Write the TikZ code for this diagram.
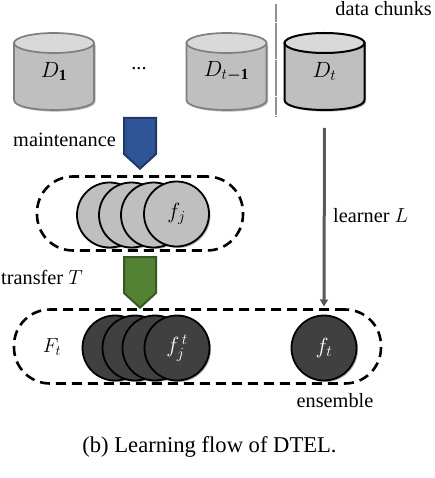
\RequirePackage{fix-cm}
\documentclass[tikz,border=0pt]{standalone}
\usepackage{amsmath,amssymb}
\usepackage{fontspec}
\setmainfont{Liberation Serif}
\usetikzlibrary{shapes.symbols,shadows,arrows.meta}
\definecolor{cylfill}{HTML}{BFBFBF}
\definecolor{cyltop}{HTML}{D9D9D9}
\definecolor{cylline}{HTML}{7F7F7F}
\definecolor{darkfill}{HTML}{404040}
\definecolor{bluefill}{HTML}{2F5597}
\definecolor{blueline}{HTML}{203864}
\definecolor{greenfill}{HTML}{548235}
\definecolor{greenline}{HTML}{385723}
\definecolor{arrowgray}{HTML}{595959}
\newcommand{\chunkshape}[3]{% x centre, colour, line width
  \fill[black,opacity=.28] (#1-38.5,45) -- (#1-38.5,101.5) .. controls (#1-38.5,115) and (#1+41.5,115) .. (#1+41.5,101.5) -- (#1+41.5,45) -- cycle;
  \draw[draw=#2,line width=#3,fill=cylfill] (#1-40,43) -- (#1-40,100) .. controls (#1-40,113.3) and (#1+40,113.3) .. (#1+40,100) -- (#1+40,43) -- cycle;
  \draw[draw=#2,line width=#3,fill=cyltop] (#1,43) ellipse [x radius=40,y radius=10];
}
\tikzset{
  softshadow/.style={drop shadow={shadow xshift=1.5pt,shadow yshift=-1.5pt,opacity=.3,fill=black}},
  chunk/.style={minimum width=80pt,minimum height=77pt,inner sep=0pt,outer sep=0pt,
    font=\fontsize{22}{24}\selectfont},
  learner/.style={circle,draw=black,line width=1.8pt,fill=cylfill,minimum size=65pt,inner sep=0pt,outer sep=0pt,softshadow,
    font=\fontsize{22}{24}\selectfont},
  darklearner/.style={learner,fill=darkfill,text=white},
  group/.style={draw=black,line width=2.6pt,dash pattern=on 10pt off 6pt,rectangle,rounded corners=36pt,inner sep=0pt},
  flowmark/.style={signal,signal to=south,signal from=nowhere,signal pointer angle=95,line width=2pt,inner sep=0pt,outer sep=0pt,minimum width=32pt,minimum height=36pt,anchor=north},
  label/.style={font=\fontsize{20.3}{24}\selectfont,inner sep=0pt},
  caption/.style={font=\fontsize{22.6}{26}\selectfont,inner sep=0pt},
}
\begin{document}
\begin{tikzpicture}[x=1pt,y=-1pt]
\useasboundingbox (0,0) rectangle (434,478);
\fill[white] (0,0) rectangle (434,478);
% separators and chunks
\coordinate (sepA) at (276,4);
\coordinate (sepB) at (276,117);
\draw[cylline!85,line width=1.4pt,dash pattern=on 18pt off 0.6pt] (sepA) -- (sepB);
\chunkshape{54}{cylline}{1.7pt}
\chunkshape{226.5}{cylline}{1.7pt}
\chunkshape{324.5}{black}{2pt}
\node[chunk] (D1) at (54,71.5) {\raisebox{-2pt}{$D_{\mathbf{1}}$}};
\node[chunk] (Dp) at (226.5,71.5) {\raisebox{-2pt}{$D_{t\boldsymbol{-}\mathbf{1}}$}};
\node[chunk] (Dt) at (324.5,71.5) {\raisebox{-2pt}{$D_t$}};
\node[label] (dots) at (139,69) {...};
\node[label,anchor=east] (chunks) at (432,9) {data chunks};
% groups
\node[group,minimum width=206pt,minimum height=74pt] (G1) at (140,213.5) {};
\node[group,minimum width=367pt,minimum height=74pt] (G2) at (197.5,346.5) {};
% markers
\node[flowmark,fill=bluefill,draw=blueline] (M) at (140,118) {};
\node[flowmark,fill=greenfill,draw=greenline] (T) at (140,257) {};
\node[label,anchor=east] (mt) at (116,140) {maintenance};
\node[label,anchor=west] (tt) at (1,277) {transfer $T$};
% learners
\node[learner] (a1) at (109.5,215) {};
\node[learner] (a2) at (131.5,215) {};
\node[learner] (a3) at (153.5,215) {};
\node[learner] (fj) at (176.5,214) {$f_j$};
\node[darklearner] (b1) at (115,348) {};
\node[darklearner] (b2) at (135,348) {};
\node[darklearner] (b3) at (155,348) {};
\node[darklearner] (fjt) at (177,348) {$f_j^{\,t}$};
\node[darklearner] (ft) at (324,348) {$f_t$};
\node[label] (Ft) at (52,347) {$F_t$};
% learner arrow
\draw[arrowgray,line width=3pt,-{Triangle[width=8pt,length=7pt]},shorten <=18pt,shorten >=9pt] (Dt.south) -- (ft.north);
\node[label,anchor=west] (ll) at (333,216) {learner $L$};
\node[label] (en) at (335,401) {ensemble};
\node[caption] (cap) at (209.5,447) {(b) Learning flow of DTEL.};
\end{tikzpicture}
\end{document}
